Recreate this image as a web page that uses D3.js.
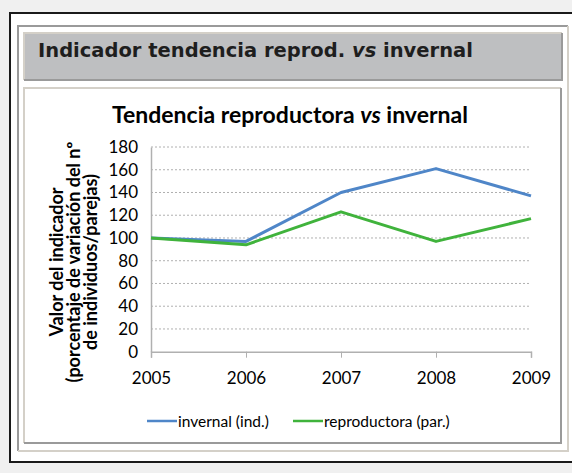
<!DOCTYPE html>
<html>
<head>
<meta charset="utf-8">
<script src="https://cdn.jsdelivr.net/npm/d3@7"></script>
<style>
  body { margin: 0; background: #f0f0f0; }
  svg { display: block; }
</style>
</head>
<body>
<svg id="chart" width="572" height="473"></svg>
<script>
// data
var years = [2005, 2006, 2007, 2008, 2009];
var invernal = [100, 97, 140, 161, 137];
var reproductora = [100, 94, 123, 97, 117];
var yTicks = [0, 20, 40, 60, 80, 100, 120, 140, 160, 180];
var seriesNames = ["invernal (ind.)", "reproductora (par.)"];
var seriesColors = ["#4f86c8", "#40b33c"];
var yTitle = ["Valor del indicador", "(porcentaje de variación del nº", "de individuos/parejas)"];

var svg = d3.select("#chart");
var calibri = "Lato, 'Open Sans', sans-serif";

// outer black frame
svg.append("rect")
    .attr("x", 10).attr("y", 13)
    .attr("width", 580).attr("height", 449)
    .attr("fill", "#fff")
    .attr("stroke", "#1a1a1a").attr("stroke-width", 2);

// inset panel border: one colour top/left, another bottom/right
function bevel(x0, y0, x1, y1, tl, br, w) {
    svg.append("path").attr("d", "M" + x0 + "," + y1 + "V" + y0 + "H" + x1)
        .attr("fill", "none").attr("stroke", tl).attr("stroke-width", w);
    svg.append("path").attr("d", "M" + x1 + "," + y0 + "V" + y1 + "H" + x0)
        .attr("fill", "none").attr("stroke", br).attr("stroke-width", w);
}
bevel(18, 26, 568, 451, "#9a9a9a", "#d4d0c8", 2);

// header bar
svg.append("rect")
    .attr("x", 24).attr("y", 32).attr("width", 538).attr("height", 48)
    .attr("fill", "#bebfc1");
bevel(24, 33, 562, 80, "#d4d0c8", "#9a9a9a", 2);

svg.append("text")
    .attr("x", 38).attr("y", 57)
    .style("font-family", "'DejaVu Sans', Verdana, sans-serif")
    .style("font-weight", "bold")
    .style("font-size", "19.5px")
    .attr("fill", "#1e1e1e")
    .call(function(t) {
        t.append("tspan").text("Indicador tendencia reprod. ");
        t.append("tspan").style("font-style", "italic").text("vs");
        t.append("tspan").text(" invernal");
    });

// chart box
bevel(24, 88, 561, 443, "#d4d0c8", "#9a9a9a", 2);

var x = d3.scaleLinear().domain([2005, 2009]).range([151, 531]);
var y = d3.scaleLinear().domain([0, 180]).range([351.7, 147]);

// chart title
svg.append("text")
    .attr("x", 112).attr("y", 123)
    .style("font-family", calibri)
    .style("font-weight", "bold")
    .style("font-size", "23px")
    .attr("fill", "#000")
    .call(function(t) {
        t.append("tspan").text("Tendencia reproductora  ");
        t.append("tspan").style("font-style", "italic").text("vs");
        t.append("tspan").text(" invernal");
    });

// gridlines
svg.append("g")
    .selectAll("line")
    .data(yTicks.filter(function(d) { return d > 0; }))
    .enter().append("line")
    .attr("x1", x(2005)).attr("x2", x(2009))
    .attr("y1", function(d) { return y(d); })
    .attr("y2", function(d) { return y(d); })
    .attr("stroke", "#b0b0b0")
    .attr("stroke-dasharray", "2,2");

// y axis
var yAxis = svg.append("g")
    .attr("transform", "translate(" + x(2005) + ",0)")
    .call(d3.axisLeft(y).tickValues(yTicks).tickSize(0).tickPadding(13));
yAxis.select(".domain").attr("stroke", "#b0b0b0").attr("stroke-width", 1.5);
yAxis.selectAll("text")
    .style("font-family", calibri).style("font-size", "17px").attr("fill", "#000");

// x axis
var xAxis = svg.append("g")
    .attr("transform", "translate(0," + y(0) + ")")
    .call(d3.axisBottom(x).tickValues(years).tickFormat(d3.format("d")).tickSize(6).tickPadding(14));
xAxis.select(".domain").attr("stroke", "#b0b0b0").attr("stroke-width", 1.5);
xAxis.selectAll(".tick line").attr("stroke", "#b0b0b0");
xAxis.selectAll("text")
    .style("font-family", calibri).style("font-size", "17px").attr("fill", "#000");

// y axis title
svg.append("text")
    .attr("transform", "translate(63,262) rotate(-90)")
    .attr("text-anchor", "middle")
    .style("font-family", calibri)
    .style("font-weight", "bold")
    .style("font-size", "18px")
    .selectAll("tspan")
    .data(yTitle)
    .enter().append("tspan")
    .attr("x", 0)
    .attr("dy", function(d, i) { return i === 0 ? 0 : 17; })
    .text(function(d) { return d; });

// lines
var line = d3.line()
    .x(function(d, i) { return x(years[i]); })
    .y(function(d) { return y(d); });

[invernal, reproductora].forEach(function(s, i) {
    svg.append("path")
        .datum(s)
        .attr("d", line)
        .attr("fill", "none")
        .attr("stroke", seriesColors[i])
        .attr("stroke-width", 3)
        .attr("stroke-linejoin", "round");
});

// legend
var legendX = [147, 293];
seriesNames.forEach(function(name, i) {
    svg.append("line")
        .attr("x1", legendX[i]).attr("x2", legendX[i] + 30)
        .attr("y1", 421).attr("y2", 421)
        .attr("stroke", seriesColors[i]).attr("stroke-width", 2.5);
    svg.append("text")
        .attr("x", legendX[i] + 31).attr("y", 426.5)
        .style("font-family", calibri).style("font-size", "15.5px")
        .attr("fill", "#000")
        .text(name);
});
</script>
</body>
</html>
